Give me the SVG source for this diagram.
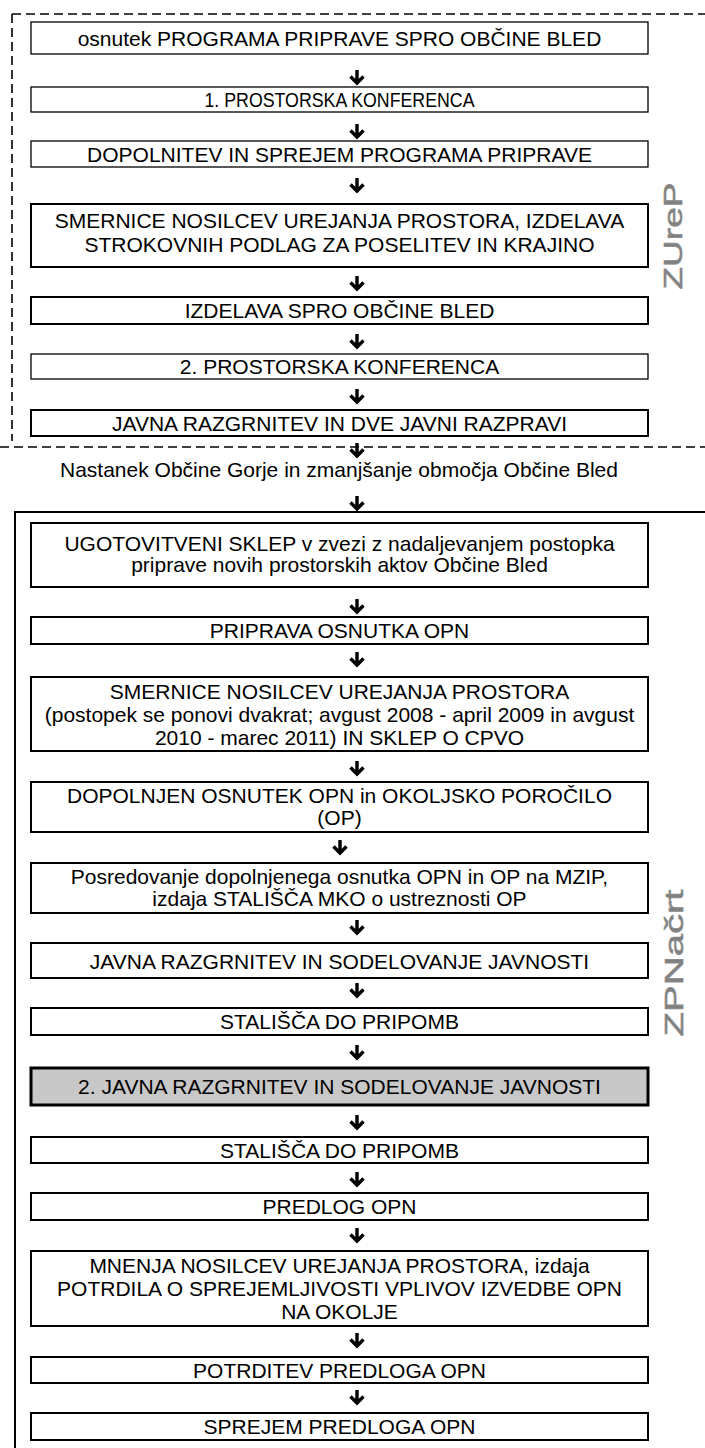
<svg xmlns="http://www.w3.org/2000/svg" xmlns:xlink="http://www.w3.org/1999/xlink" width="705" height="1448" viewBox="0 0 705 1448">
<style>
.box{fill:#fff;stroke:#000;stroke-width:2}
.thin{stroke-width:1.3}
.grey{fill:#c8c8c8;stroke:#000;stroke-width:3}
.t{font-family:"Liberation Sans",Arial,sans-serif;font-size:21px;fill:#000;text-anchor:middle}
.side{font-family:"Liberation Sans",Arial,sans-serif;font-size:26px;fill:#808080;stroke:#8c8c8c;stroke-width:0.6;text-anchor:middle}
.dash{stroke:#000;stroke-width:1.6;stroke-dasharray:9 5;fill:none}
.frame{stroke:#000;stroke-width:2;fill:none}
.arr{stroke:#000;stroke-width:3.4;fill:none}
</style>
<defs>
<path id="arrow" d="M0,0 V13 M-6.5,6.5 L0,13 L6.5,6.5" class="arr"/>
</defs>
<rect width="705" height="1448" fill="#fff"/>
<g id="frames">
<line x1="12" y1="14" x2="705" y2="14" class="dash"/>
<line x1="12" y1="14" x2="12" y2="441" class="dash"/>
<line x1="0" y1="447" x2="705" y2="447" class="dash"/>
<path d="M705,512 H15 V1448" class="frame"/>
</g>
<g id="labels">
<text class="side" transform="translate(682,236) rotate(-90)" textLength="107" lengthAdjust="spacingAndGlyphs">ZUreP</text>
<text class="side" transform="translate(683,963) rotate(-90)" textLength="147" lengthAdjust="spacingAndGlyphs">ZPNačrt</text>
<text class="t" x="339" y="477">Nastanek Občine Gorje in zmanjšanje območja Občine Bled</text>
</g>
<g id="n1"><rect class="box thin" x="31" y="22" width="617" height="32"/><text class="t" x="339.5" y="46">osnutek PROGRAMA PRIPRAVE SPRO OBČINE BLED</text></g>
<g id="n2"><rect class="box thin" x="31" y="87" width="617" height="25"/><text class="t" x="339.5" y="107" textLength="270" lengthAdjust="spacingAndGlyphs">1. PROSTORSKA KONFERENCA</text></g>
<g id="n3"><rect class="box thin" x="31" y="141" width="617" height="26"/><text class="t" x="339.5" y="162">DOPOLNITEV IN SPREJEM PROGRAMA PRIPRAVE</text></g>
<g id="n4"><rect class="box" x="31" y="204" width="617" height="63"/><text class="t" x="339.5" y="228">SMERNICE NOSILCEV UREJANJA PROSTORA, IZDELAVA</text><text class="t" x="339.5" y="252">STROKOVNIH PODLAG ZA POSELITEV IN KRAJINO</text></g>
<g id="n5"><rect class="box" x="31" y="297" width="617" height="27"/><text class="t" x="339.5" y="318">IZDELAVA SPRO OBČINE BLED</text></g>
<g id="n6"><rect class="box thin" x="31" y="354" width="617" height="25"/><text class="t" x="339.5" y="374">2. PROSTORSKA KONFERENCA</text></g>
<g id="n7"><rect class="box" x="31" y="410" width="617" height="26"/><text class="t" x="339.5" y="431">JAVNA RAZGRNITEV IN DVE JAVNI RAZPRAVI</text></g>
<g id="n8"><rect class="box" x="31" y="523" width="617" height="64"/><text class="t" x="339.5" y="551">UGOTOVITVENI SKLEP v zvezi z nadaljevanjem postopka</text><text class="t" x="339.5" y="572">priprave novih prostorskih aktov Občine Bled</text></g>
<g id="n9"><rect class="box" x="31" y="617" width="617" height="27"/><text class="t" x="339.5" y="638">PRIPRAVA OSNUTKA OPN</text></g>
<g id="n10"><rect class="box" x="31" y="677" width="617" height="74"/><text class="t" x="339.5" y="699">SMERNICE NOSILCEV UREJANJA PROSTORA</text><text class="t" x="339.5" y="722">(postopek se ponovi dvakrat; avgust 2008 - april 2009 in avgust</text><text class="t" x="339.5" y="745">2010 - marec 2011) IN SKLEP O CPVO</text></g>
<g id="n11"><rect class="box" x="31" y="782" width="617" height="50"/><text class="t" x="339.5" y="803">DOPOLNJEN OSNUTEK OPN in OKOLJSKO POROČILO</text><text class="t" x="339.5" y="825">(OP)</text></g>
<g id="n12"><rect class="box" x="31" y="863" width="617" height="50"/><text class="t" x="339.5" y="884">Posredovanje dopolnjenega osnutka OPN in OP na MZIP,</text><text class="t" x="339.5" y="906">izdaja STALIŠČA MKO o ustreznosti OP</text></g>
<g id="n13"><rect class="box" x="31" y="943" width="617" height="35"/><text class="t" x="339.5" y="969">JAVNA RAZGRNITEV IN SODELOVANJE JAVNOSTI</text></g>
<g id="n14"><rect class="box" x="31" y="1008" width="617" height="27"/><text class="t" x="339.5" y="1029">STALIŠČA DO PRIPOMB</text></g>
<g id="n15"><rect class="grey" x="31" y="1068" width="617" height="37"/><text class="t" x="339.5" y="1094">2. JAVNA RAZGRNITEV IN SODELOVANJE JAVNOSTI</text></g>
<g id="n16"><rect class="box" x="31" y="1137" width="617" height="26"/><text class="t" x="339.5" y="1158">STALIŠČA DO PRIPOMB</text></g>
<g id="n17"><rect class="box" x="31" y="1193" width="617" height="27"/><text class="t" x="339.5" y="1214">PREDLOG OPN</text></g>
<g id="n18"><rect class="box" x="31" y="1251" width="617" height="75"/><text class="t" x="339.5" y="1273">MNENJA NOSILCEV UREJANJA PROSTORA, izdaja</text><text class="t" x="339.5" y="1296">POTRDILA O SPREJEMLJIVOSTI VPLIVOV IZVEDBE OPN</text><text class="t" x="339.5" y="1319">NA OKOLJE</text></g>
<g id="n19"><rect class="box" x="31" y="1357" width="617" height="26"/><text class="t" x="339.5" y="1378">POTRDITEV PREDLOGA OPN</text></g>
<g id="n20"><rect class="box" x="31" y="1413" width="617" height="27"/><text class="t" x="339.5" y="1434">SPREJEM PREDLOGA OPN</text></g>
<g id="connectors">
<use xlink:href="#arrow" x="357" y="70"/>
<use xlink:href="#arrow" x="357" y="124"/>
<use xlink:href="#arrow" x="357" y="178"/>
<use xlink:href="#arrow" x="357" y="276"/>
<use xlink:href="#arrow" x="357" y="334"/>
<use xlink:href="#arrow" x="357" y="389"/>
<use xlink:href="#arrow" x="357" y="443"/>
<use xlink:href="#arrow" x="357" y="496"/>
<use xlink:href="#arrow" x="357" y="599"/>
<use xlink:href="#arrow" x="357" y="652"/>
<use xlink:href="#arrow" x="357" y="761"/>
<use xlink:href="#arrow" x="340" y="840"/>
<use xlink:href="#arrow" x="357" y="920"/>
<use xlink:href="#arrow" x="357" y="983"/>
<use xlink:href="#arrow" x="357" y="1045"/>
<use xlink:href="#arrow" x="357" y="1115"/>
<use xlink:href="#arrow" x="357" y="1172"/>
<use xlink:href="#arrow" x="357" y="1228"/>
<use xlink:href="#arrow" x="357" y="1333"/>
<use xlink:href="#arrow" x="357" y="1390"/>
</g>
</svg>
